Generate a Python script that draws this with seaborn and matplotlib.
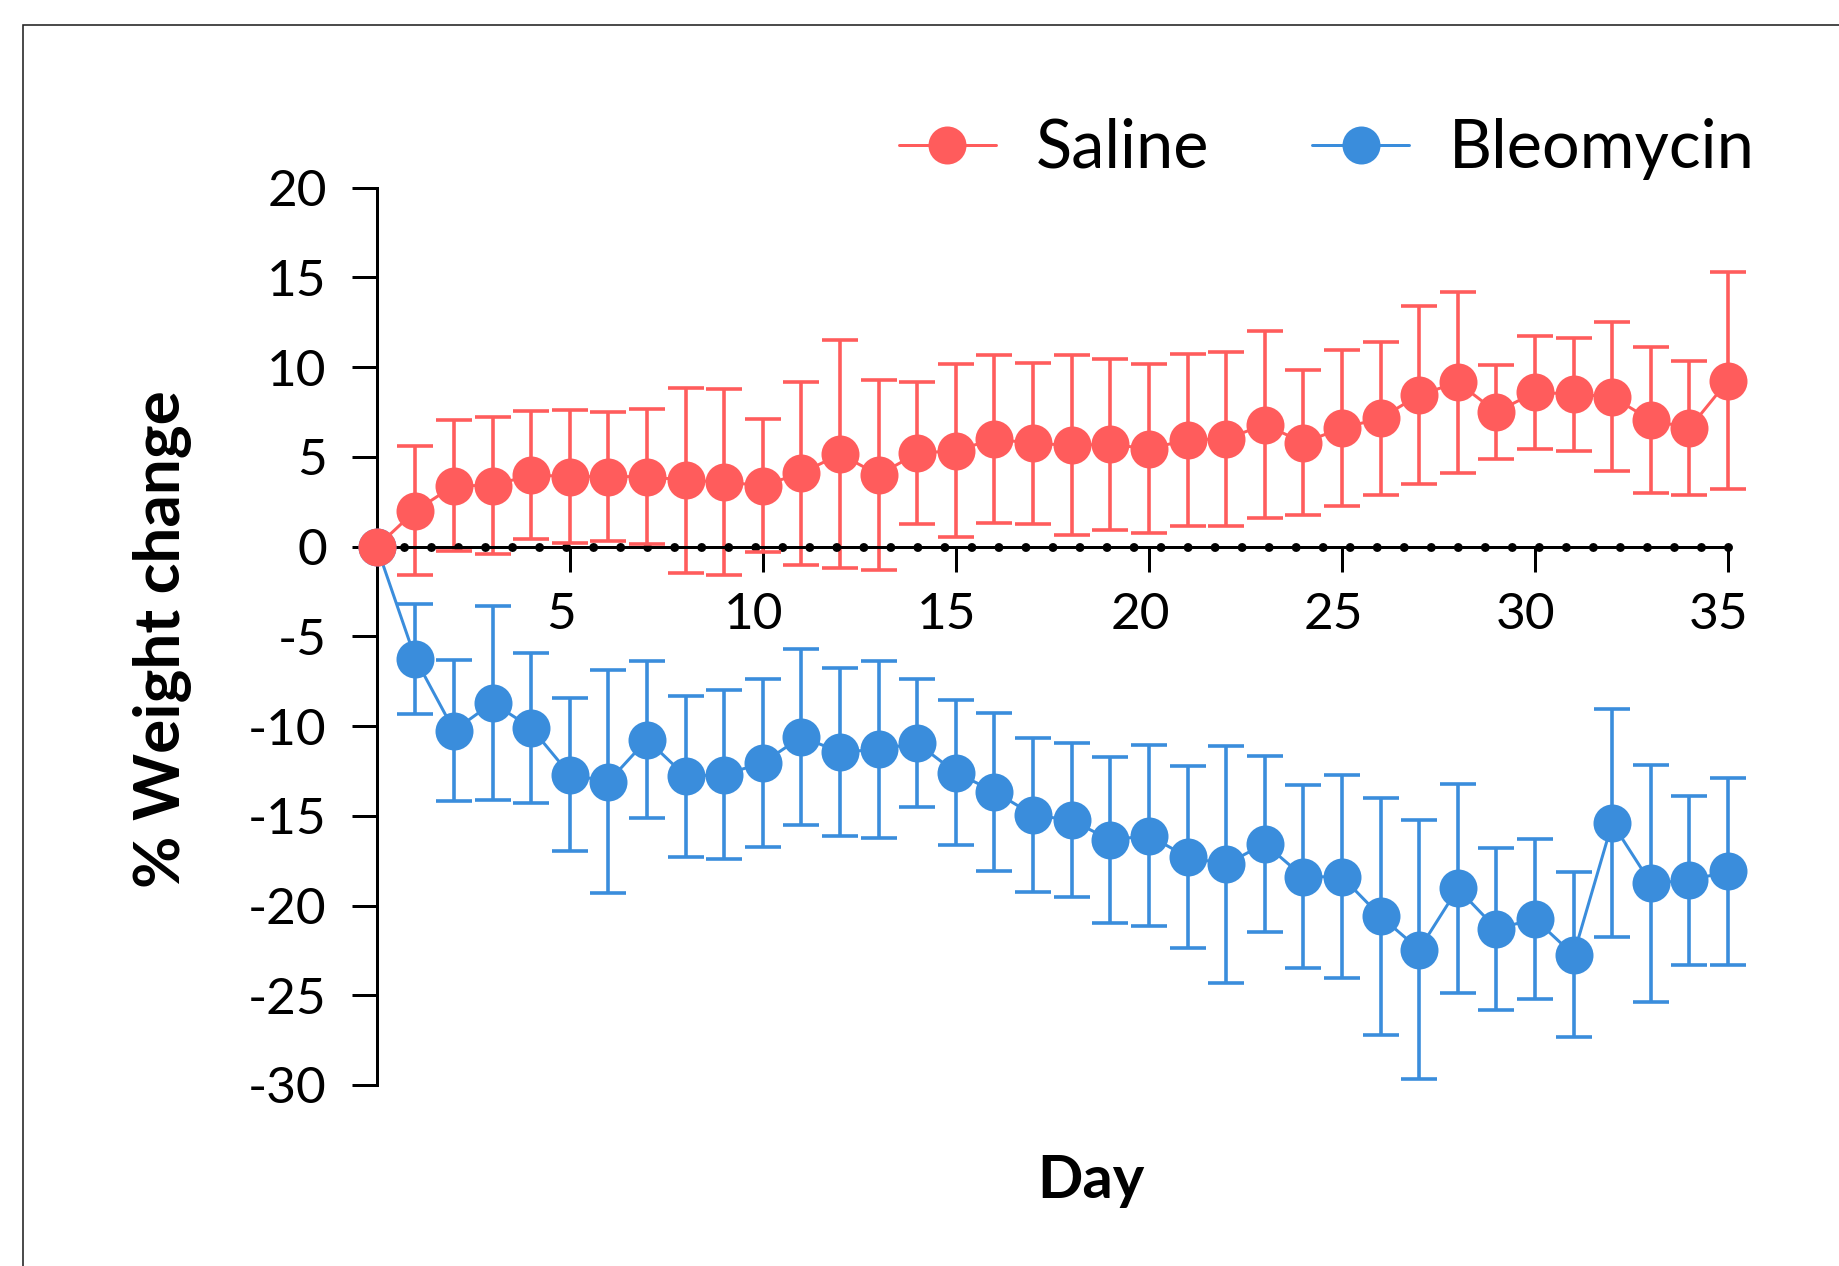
import numpy as np
import pandas as pd
import matplotlib
matplotlib.use("Agg")
import matplotlib.pyplot as plt
import seaborn as sns
from matplotlib.lines import Line2D
from matplotlib.patches import Rectangle
from matplotlib.transforms import ScaledTranslation

# ---------------- data ----------------
days = list(range(0, 36))
saline_mean = [0, 2.0, 3.4, 3.4, 4.0, 3.9, 3.9, 3.9, 3.7, 3.6, 3.4, 4.1, 5.15, 4.0, 5.2, 5.35,
               6.0, 5.75, 5.65, 5.7, 5.45, 5.95, 6.0, 6.8, 5.8, 6.6, 7.15, 8.45, 9.15, 7.5,
               8.6, 8.5, 8.35, 7.05, 6.6, 9.25]
saline_sd = [0, 3.6, 3.65, 3.8, 3.55, 3.7, 3.6, 3.75, 5.15, 5.2, 3.7, 5.1, 6.35, 5.3, 3.95, 4.8,
             4.7, 4.5, 5.0, 4.75, 4.7, 4.8, 4.85, 5.2, 4.05, 4.35, 4.25, 4.95, 5.05, 2.6,
             3.15, 3.15, 4.15, 4.05, 3.75, 6.05]
bleo_mean = [0, -6.25, -10.25, -8.7, -10.1, -12.7, -13.1, -10.75, -12.8, -12.7, -12.05, -10.6,
             -11.45, -11.3, -10.95, -12.6, -13.65, -14.95, -15.25, -16.35, -16.1, -17.3, -17.7,
             -16.55, -18.4, -18.4, -20.6, -22.45, -19.05, -21.3, -20.75, -22.75, -15.4, -18.75,
             -18.6, -18.1]
bleo_sd = [0, 3.05, 3.95, 5.4, 4.2, 4.25, 6.2, 4.35, 4.5, 4.7, 4.7, 4.9, 4.7, 4.95, 3.55, 4.05,
           4.4, 4.3, 4.3, 4.6, 5.05, 5.05, 6.6, 4.9, 5.1, 5.65, 6.6, 7.2, 5.85, 4.5, 4.45, 4.6,
           6.35, 6.6, 4.7, 5.2]
groups = ["Saline", "Bleomycin"]
x_ticks = [5, 10, 15, 20, 25, 30, 35]
y_ticks = [-30, -25, -20, -15, -10, -5, 0, 5, 10, 15, 20]
x_label = "Day"
y_label = "% Weight change"

colors = {"Saline": "#FF5C5C", "Bleomycin": "#3A8DDC"}

df = pd.DataFrame({
    "Day": days * 2,
    "Change": saline_mean + bleo_mean,
    "SD": saline_sd + bleo_sd,
    "Group": ["Saline"] * len(days) + ["Bleomycin"] * len(days),
})

# ---------------- style ----------------
sns.set_theme(style="white")
plt.rcParams["font.family"] = ["Lato", "DejaVu Sans"]
plt.rcParams["axes.unicode_minus"] = False
plt.rcParams["text.color"] = "black"

W, H, DPI = 1839, 1266, 100
fig = plt.figure(figsize=(W / DPI, H / DPI), dpi=DPI)
fig.patch.set_facecolor("white")

# axes placement (pixel-derived)
x0, x35 = 376.8, 1728.0
y20, ym30 = 187.7, 1085.0
ax = fig.add_axes([x0 / W, 1 - ym30 / H, (x35 - x0) / W, (ym30 - y20) / H])
ax.set_facecolor("none")

pt = 0.72  # px -> pt at 100 dpi

# error bars
ez = {"Bleomycin": 2.0, "Saline": 2.1}
for g in ["Bleomycin", "Saline"]:
    sub = df[(df["Group"] == g) & (df["SD"] > 0)]
    eb = ax.errorbar(sub["Day"], sub["Change"], yerr=sub["SD"], fmt="none",
                     ecolor=colors[g], elinewidth=3.6 * pt, capsize=13.3,
                     capthick=3.6 * pt, zorder=ez[g])
    for a in eb.get_children():
        a.set_clip_on(False)

# lines + markers via seaborn
sns.lineplot(data=df, x="Day", y="Change", hue="Group", hue_order=["Bleomycin", "Saline"],
             palette=colors, marker="o", markersize=38 * pt, markeredgewidth=0,
             linewidth=3 * pt, legend=False, ax=ax, errorbar=None)
for i, ln in enumerate(ax.get_lines()):
    ln.set_clip_on(False)
    ln.set_zorder(3 + 0.1 * i)

# dotted zero line
dot_px = 9.0
ax.axhline(0, 0, 1, color="black", linewidth=dot_px * pt,
           linestyle=(0, (0.001, 27.02 / dot_px - 0.001)), dash_capstyle="round",
           zorder=2.6, clip_on=False)

# axes
ax.set_xlim(0, 35)
ax.set_ylim(-30, 20)
for s in ["top", "right"]:
    ax.spines[s].set_visible(False)
ax.spines["left"].set_position(("data", 0))
ax.spines["bottom"].set_position(("data", 0))
ax.spines["left"].set_bounds(-30, 20)
ax.spines["bottom"].set_bounds(0, 35)
for s in ["left", "bottom"]:
    ax.spines[s].set_linewidth(3 * pt)
    ax.spines[s].set_color("black")
ax.set_xticks(x_ticks)
ax.set_yticks(y_ticks)
ax.tick_params(axis="both", which="major", direction="out", length=25 * pt,
               width=3 * pt, colors="black", labelsize=37, bottom=True, left=True)
ax.tick_params(axis="x", pad=15)
ax.tick_params(axis="y", pad=18)
for lbl in ax.get_xticklabels():
    lbl.set_transform(lbl.get_transform() + ScaledTranslation(-9 / DPI, 0, fig.dpi_scale_trans))

ax.set_xlabel(x_label, fontsize=43, fontweight="bold", color="black")
ax.xaxis.set_label_coords((1091 - x0) / (x35 - x0), (ym30 - 1181) / (ym30 - y20))
ax.xaxis.label.set_verticalalignment("center")
ax.set_ylabel(y_label, fontsize=46, fontweight="bold", color="black")
ax.yaxis.set_label_coords((162 - x0) / (x35 - x0), (ym30 - 639) / (ym30 - y20))
ax.yaxis.label.set_verticalalignment("center")

# legend
handles = [Line2D([], [], color=colors[g], marker="o", markersize=38 * pt,
                  markeredgewidth=0, linewidth=3 * pt) for g in groups]
ax.legend(handles, groups, loc="center", bbox_to_anchor=(1327 / W, 1 - 149 / H),
          bbox_transform=fig.transFigure, ncol=2, frameon=False, fontsize=48,
          labelcolor="black", handlelength=1.45, handletextpad=0.6, columnspacing=1.55,
          borderpad=0, borderaxespad=0)

# outer frame (partly cropped)
fig.add_artist(Rectangle((23 / W, -0.5), 2.0, 0.5 + (1 - 25 / H), transform=fig.transFigure,
                         fill=False, edgecolor="#222222", linewidth=1.6 * pt))

fig.savefig("out.png", dpi=DPI)
